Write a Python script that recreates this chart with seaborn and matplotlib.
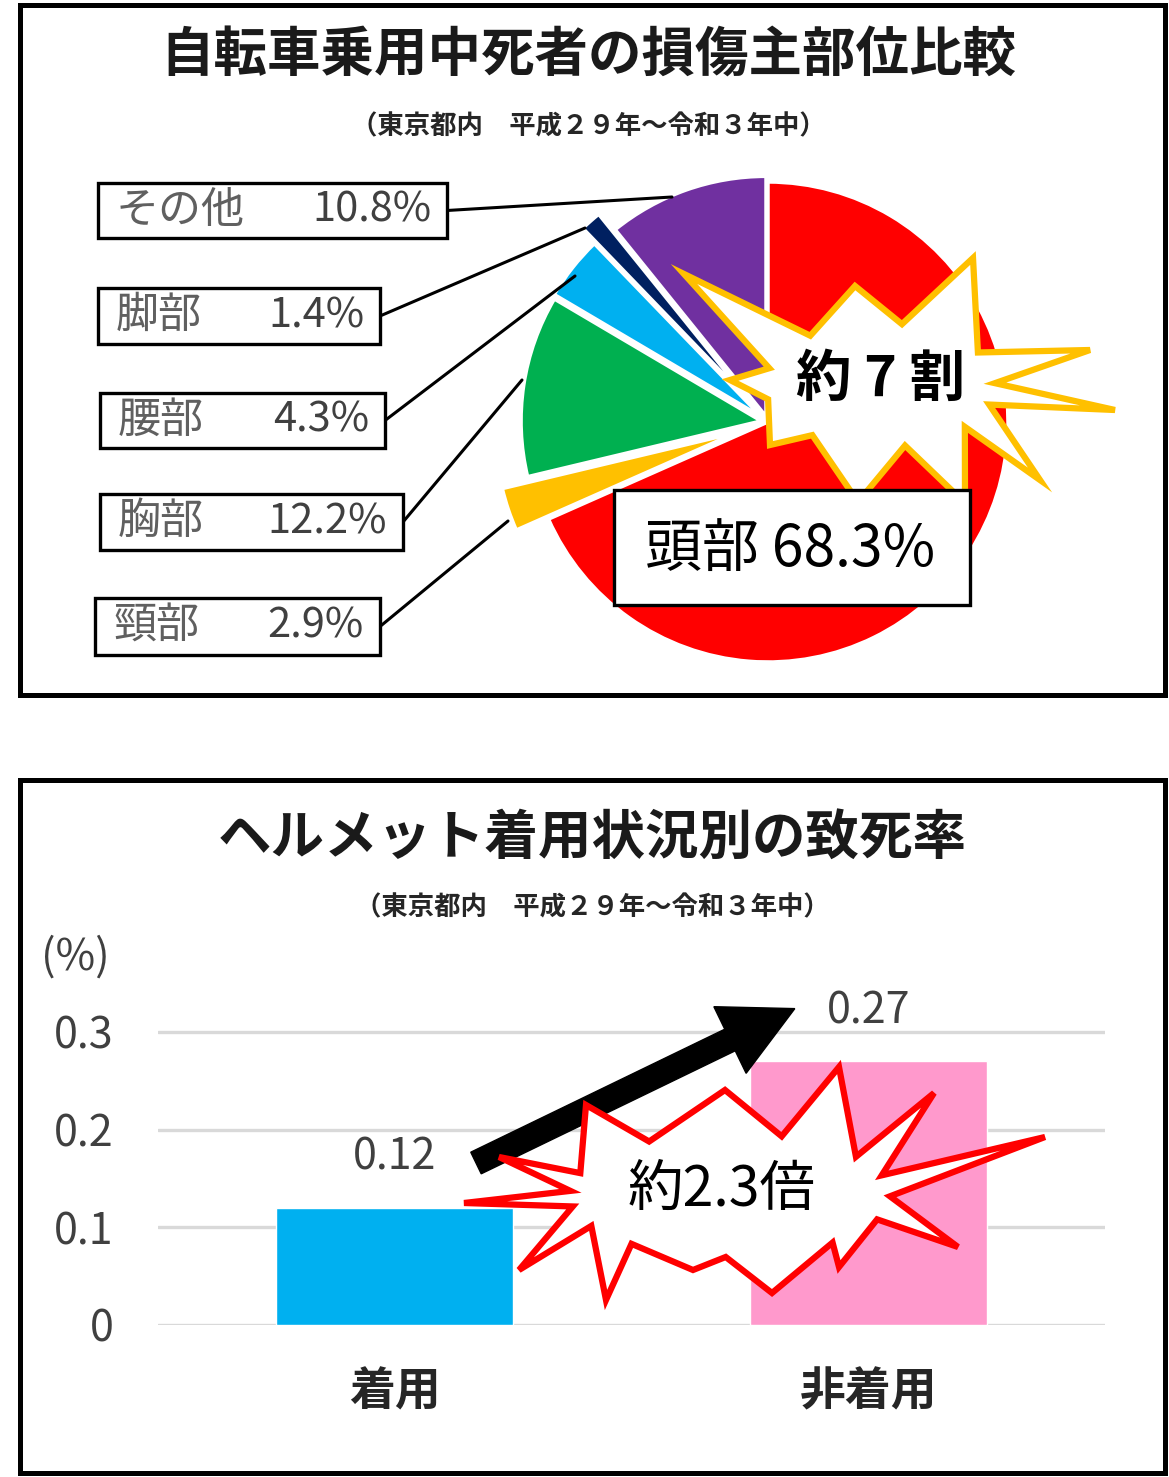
import numpy as np
import matplotlib
matplotlib.use("Agg")
import matplotlib.pyplot as plt
import matplotlib.patches as mpatches
import seaborn as sns

# データ
parts = ['頭部', '頸部', '胸部', '腰部', '脚部', 'その他']
shares = [68.3, 2.9, 12.2, 4.3, 1.4, 10.8]
part_colors = ['#FF0000', '#FFC000', '#00B050', '#00B0F0', '#002060', '#7030A0']
# 切り出し量（ピクセル）
part_explode = [0, 34, 7, 9, 28, 6]

helmet = ['着用', '非着用']
fatality = [0.12, 0.27]
bar_colors = ['#00B0F0', '#FF99CC']
yticks = [0, 0.1, 0.2, 0.3]
ytick_labels = ['0', '0.1', '0.2', '0.3']

title1 = '自転車乗用中死者の損傷主部位比較'
title2 = 'ヘルメット着用状況別の致死率'
subtitle = '（東京都内　平成２９年～令和３年中）'

sns.set_theme(style='white')
plt.rcParams['font.family'] = ['Noto Sans CJK JP', 'DejaVu Sans']

W, H = 1169, 1477
fig = plt.figure(figsize=(W / 100, H / 100), dpi=100)
fig.patch.set_facecolor('white')


def fy(y):
    return H - y


# ---- 棒グラフ ----
y0_px, px_per_unit, ytop = 1325, 977, 0.32
ax2 = fig.add_axes([158 / W, (H - y0_px) / H, (1105 - 158) / W, ytop * px_per_unit / H])
sns.barplot(x=helmet, y=fatality, hue=helmet, palette=bar_colors, saturation=1,
            width=0.5, legend=False, ax=ax2)
ax2.set_ylim(0, ytop)
ax2.set_yticks(yticks)
ax2.set_yticklabels(ytick_labels)
ax2.yaxis.grid(True, color='#D9D9D9', linewidth=2.4)
ax2.set_axisbelow(True)
for s in ax2.spines.values():
    s.set_visible(False)
ax2.tick_params(axis='y', length=0, pad=32, labelsize=31, labelcolor='#404040')
ax2.tick_params(axis='x', length=0, pad=32, labelsize=33, labelcolor='#262626')
for t in ax2.get_xticklabels():
    t.set_fontweight('bold')
ax2.set_xlabel('')
ax2.set_ylabel('')
for i, v in enumerate(fatality):
    ax2.annotate(f'{v:.2f}', xy=(i, v), xytext=(0, 36), textcoords='offset points',
                 ha='center', va='center', fontsize=31, color='#404040')

# ---- 全体オーバーレイ ----
ov = fig.add_axes([0, 0, 1, 1], zorder=5)
ov.patch.set_alpha(0)

# 円グラフ
ov.pie(shares, colors=part_colors, startangle=90, counterclock=False,
       explode=part_explode, center=(768, fy(422)), radius=240,
       wedgeprops=dict(edgecolor='white', linewidth=2.5))

ov.set_xlim(0, W)
ov.set_ylim(0, H)
ov.set_aspect('auto')
ov.axis('off')

# 枠
for (x0, y0, x1, y1) in [(20, 5, 1165, 695), (20, 780, 1165, 1473)]:
    ov.add_patch(mpatches.Rectangle((x0, fy(y1)), x1 - x0, y1 - y0, fill=False,
                                    edgecolor='black', linewidth=3.6, zorder=10))

# タイトル
ov.text(588, fy(55), title1, ha='center', va='center', fontsize=38.5, fontweight='bold', color='#1a1a1a')
ov.text(588, fy(127), subtitle, ha='center', va='center', fontsize=19, fontweight='bold', color='#262626')
ov.text(592, fy(838), title2, ha='center', va='center', fontsize=38.5, fontweight='bold', color='#1a1a1a')
ov.text(592, fy(908), subtitle, ha='center', va='center', fontsize=19, fontweight='bold', color='#262626')
ov.text(75, fy(958), '(%)', ha='center', va='center', fontsize=31, color='#404040')


def starburst(cx, cy, tips, rx_in, ry_in):
    pts = []
    ang = [np.arctan2(-dy, dx) for dx, dy in tips]
    order = np.argsort(ang)
    tips = [tips[k] for k in order]
    ang = [ang[k] for k in order]
    n = len(tips)
    for k in range(n):
        dx, dy = tips[k]
        pts.append((cx + dx, fy(cy + dy)))
        a1, a2 = ang[k], ang[(k + 1) % n]
        if a2 <= a1:
            a2 += 2 * np.pi
        am = (a1 + a2) / 2
        pts.append((cx + rx_in * np.cos(am), fy(cy) + ry_in * np.sin(am)))
    return pts


# 黄色の爆発マーク
ytips = [(-196, -111), (-25, -99), (93, -127), (210, -35), (235, 25), (160, 95),
         (85, 118), (-22, 117), (-110, 60), (-150, -5)]
ov.add_patch(mpatches.Polygon(starburst(880, 385, ytips, 115, 62), closed=True,
                              facecolor='white', edgecolor='#FFC000', linewidth=4.5,
                              joinstyle='miter', zorder=6))
ov.text(880, fy(380), '約 7 割', ha='center', va='center', fontsize=40,
        fontweight='bold', color='black', zorder=7)

# 引出線とラベル
boxes = [
    ('その他', '10.8%', (98, 183, 447, 238), (672, 197)),
    ('脚部', '1.4%', (98, 288, 380, 344), (585, 228)),
    ('腰部', '4.3%', (100, 393, 385, 448), (575, 276)),
    ('胸部', '12.2%', (100, 494, 403, 550), (522, 380)),
    ('頸部', '2.9%', (95, 598, 380, 655), (508, 521)),
]
for name, val, (x0, y0, x1, y1), (ex, ey) in boxes:
    cy = (y0 + y1) / 2
    ov.plot([x1, ex], [fy(cy), fy(ey)], color='black', linewidth=2.2, zorder=4)
    ov.add_patch(mpatches.Rectangle((x0, fy(y1)), x1 - x0, y1 - y0, facecolor='white',
                                    edgecolor='black', linewidth=2.4, zorder=5))
    ov.text(x0 + 18, fy(cy), name, ha='left', va='center', fontsize=31,
            color='#606060', zorder=6)
    ov.text(x1 - 16, fy(cy), val, ha='right', va='center', fontsize=30,
            color='#404040', zorder=6)

ov.add_patch(mpatches.Rectangle((614, fy(605)), 356, 115, facecolor='white',
                                edgecolor='black', linewidth=2.4, zorder=8))
ov.text(790, fy(550), '頭部 68.3%', ha='center', va='center', fontsize=41,
        color='black', zorder=9)

# 矢印
ov.add_patch(mpatches.FancyArrow(476, fy(1163), 254, fy(1040) - fy(1163), width=24,
                                 head_width=74, head_length=72, length_includes_head=False,
                                 facecolor='black', edgecolor='black', zorder=6))

# 赤の爆発マーク
rtips = [(109, -128), (-5, -105), (-144, -90), (-231, -38), (-266, 8), (-211, 75),
         (-124, 105), (-37, 75), (42, 98), (109, 72), (228, 52), (315, -58), (204, -102)]
ov.add_patch(mpatches.Polygon(starburst(730, 1195, rtips, 160, 62), closed=True,
                              facecolor='white', edgecolor='#FF0000', linewidth=4.5,
                              joinstyle='miter', zorder=7))
ov.text(722, fy(1190), '約2.3倍', ha='center', va='center', fontsize=40,
        color='black', zorder=8)

fig.savefig('out.png', dpi=100, facecolor='white')
